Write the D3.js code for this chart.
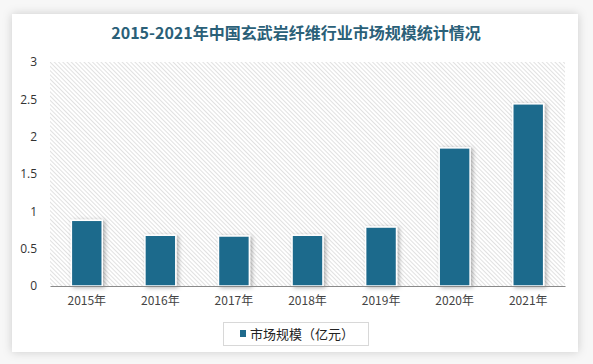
<!DOCTYPE html>
<html><head><meta charset="utf-8">
<script src="https://cdn.jsdelivr.net/npm/d3@7"></script>
<style>
html,body{margin:0;padding:0;background:#f4f4f4;}
svg{display:block;}
</style></head>
<body>
<svg id="c" width="593" height="364"></svg>
<script>
const title = "2015-2021年中国玄武岩纤维行业市场规模统计情况";
const categories = ["2015年","2016年","2017年","2018年","2019年","2020年","2021年"];
const values = [0.88, 0.68, 0.67, 0.68, 0.79, 1.85, 2.44];
const yTicks = [0, 0.5, 1, 1.5, 2, 2.5, 3];
const seriesName = "市场规模（亿元）";

const svg = d3.select("#c");
const defs = svg.append("defs");
const f = defs.append("filter").attr("id","cardShadow").attr("x","-10%").attr("y","-10%").attr("width","120%").attr("height","120%");
f.append("feDropShadow").attr("dx",0).attr("dy",0).attr("stdDeviation",5).attr("flood-color","#000").attr("flood-opacity",0.18);
const bf = defs.append("filter").attr("id","barShadow").attr("x","-30%").attr("y","-10%").attr("width","160%").attr("height","130%");
bf.append("feDropShadow").attr("dx",2).attr("dy",1).attr("stdDeviation",2).attr("flood-color","#000").attr("flood-opacity",0.3);
const pat = defs.append("pattern").attr("id","hatch").attr("patternUnits","userSpaceOnUse")
  .attr("width",3).attr("height",3).attr("patternTransform","rotate(-45)");
pat.append("line").attr("x1",0).attr("y1",0).attr("x2",0).attr("y2",3).attr("stroke","#c4c4c4").attr("stroke-width",1);

// card
svg.append("rect").attr("x",0).attr("y",0).attr("width",593).attr("height",364).attr("fill","#f7f7f7");
svg.append("rect").attr("x",12).attr("y",14).attr("width",566).attr("height",338).attr("fill","#fff").attr("filter","url(#cardShadow)");

svg.append("text").attr("x",296).attr("y",39).attr("text-anchor","middle")
  .attr("font-family","'Noto Sans CJK SC', sans-serif").attr("font-weight","bold").attr("font-size",16)
  .attr("fill","#2a6078").text(title);

const m = {left:50, right:565, top:62, bottom:286};
const x = d3.scaleBand().domain(categories).range([m.left,m.right]).paddingInner(0.58).paddingOuter(0.29);
const y = d3.scaleLinear().domain([0,3]).range([m.bottom,m.top]);

svg.append("rect").attr("x",m.left).attr("y",m.top).attr("width",m.right-m.left).attr("height",m.bottom-m.top).attr("fill","url(#hatch)");

// y axis
const ya = svg.append("g").attr("transform",`translate(${m.left},0)`)
  .call(d3.axisLeft(y).tickValues(yTicks).tickFormat(d=>String(d)).tickSize(0).tickPadding(13));
ya.select(".domain").remove();
ya.selectAll("text").attr("font-family","'Open Sans', 'Noto Sans', sans-serif").attr("font-size",12).attr("fill","#333");

// bars
svg.append("g").selectAll("rect").data(values).join("rect")
  .attr("x",(d,i)=>x(categories[i])).attr("width",x.bandwidth())
  .attr("y",d=>y(d)).attr("height",d=>y(0)-y(d))
  .attr("fill","#1f6a8c").attr("stroke","#fff").attr("stroke-width",1.5)
  .attr("filter","url(#barShadow)");

// x axis
const xa = svg.append("g").attr("transform",`translate(0,${m.bottom})`)
  .call(d3.axisBottom(x).tickSize(0).tickPadding(10));
xa.select(".domain").attr("stroke","#8a8a8a").attr("stroke-width",1.2);
xa.selectAll("text").attr("font-family","'Noto Sans CJK SC', sans-serif").attr("font-size",12).attr("fill","#444");

// legend
const lg = svg.append("g");
lg.append("rect").attr("x",223.5).attr("y",322.5).attr("width",145).attr("height",23).attr("fill","#fff").attr("stroke","#d8d8d8");
lg.append("rect").attr("x",240).attr("y",330).attr("width",6).attr("height",7).attr("fill","#1f6a8c");
lg.append("text").attr("x",250).attr("y",339).attr("font-family","'Noto Sans CJK SC', sans-serif").attr("font-size",13).attr("fill","#222").text(seriesName);
</script>
</body></html>
